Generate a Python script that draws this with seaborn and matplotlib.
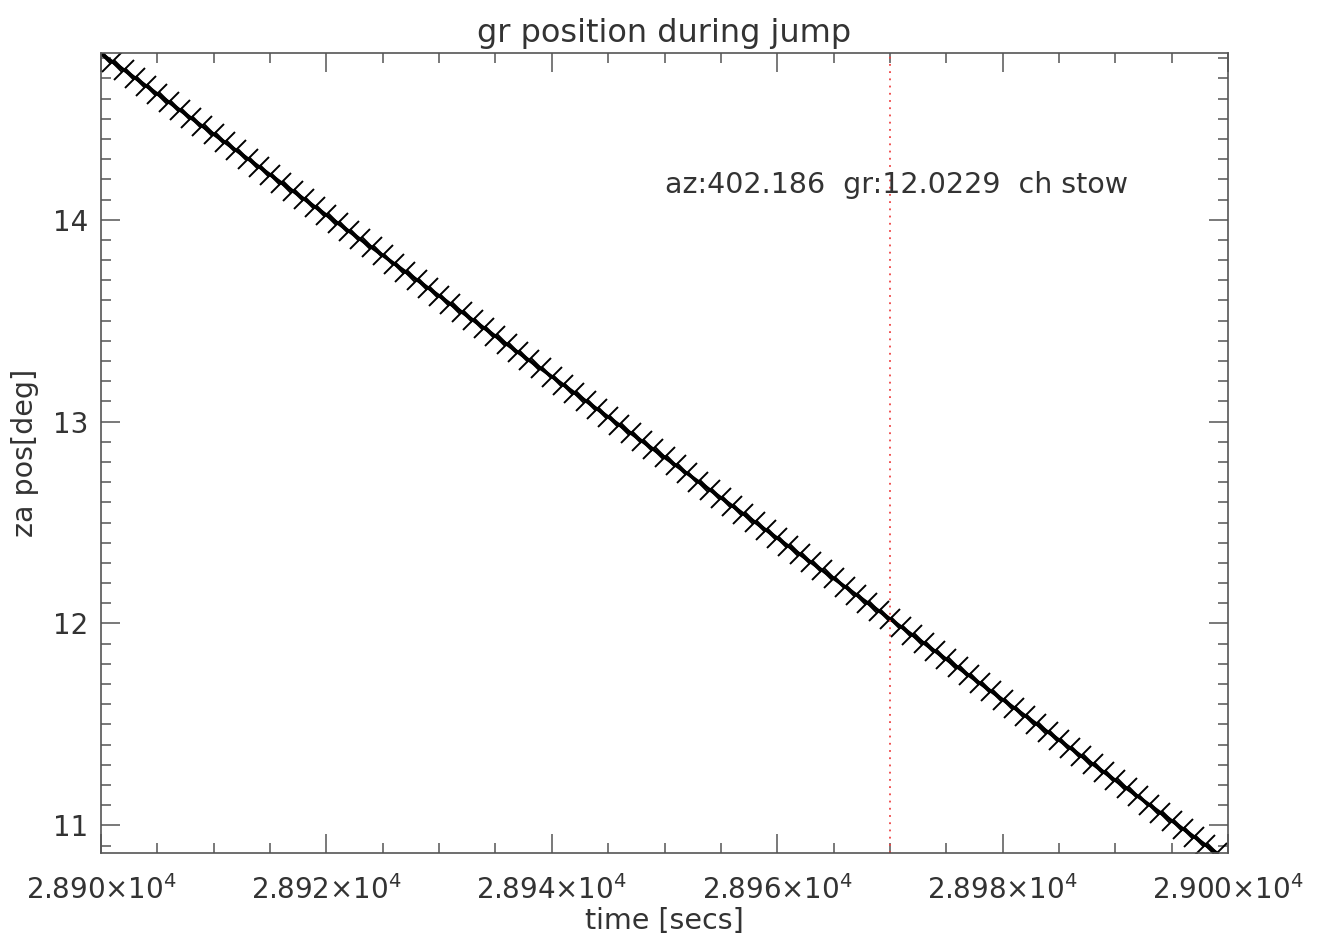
import seaborn as sns
import matplotlib.pyplot as plt
from matplotlib.ticker import FixedLocator, MultipleLocator
import pandas as pd

# time stamps [secs] and za position [deg]
time_secs = [
    28900, 28901, 28902, 28903, 28904, 28905, 28906, 28907, 28908, 28909,
    28910, 28911, 28912, 28913, 28914, 28915, 28916, 28917, 28918, 28919,
    28920, 28921, 28922, 28923, 28924, 28925, 28926, 28927, 28928, 28929,
    28930, 28931, 28932, 28933, 28934, 28935, 28936, 28937, 28938, 28939,
    28940, 28941, 28942, 28943, 28944, 28945, 28946, 28947, 28948, 28949,
    28950, 28951, 28952, 28953, 28954, 28955, 28956, 28957, 28958, 28959,
    28960, 28961, 28962, 28963, 28964, 28965, 28966, 28967, 28968, 28969,
    28970, 28971, 28972, 28973, 28974, 28975, 28976, 28977, 28978, 28979,
    28980, 28981, 28982, 28983, 28984, 28985, 28986, 28987, 28988, 28989,
    28990, 28991, 28992, 28993, 28994, 28995, 28996, 28997, 28998, 28999,
]
za_pos = [
    14.823, 14.783, 14.743, 14.703, 14.663, 14.623, 14.583, 14.543, 14.503, 14.463,
    14.423, 14.383, 14.343, 14.303, 14.263, 14.223, 14.183, 14.143, 14.103, 14.063,
    14.023, 13.983, 13.943, 13.903, 13.863, 13.823, 13.783, 13.743, 13.703, 13.663,
    13.623, 13.583, 13.543, 13.503, 13.463, 13.423, 13.383, 13.343, 13.303, 13.263,
    13.223, 13.183, 13.143, 13.103, 13.063, 13.023, 12.983, 12.943, 12.903, 12.863,
    12.823, 12.783, 12.743, 12.703, 12.663, 12.623, 12.583, 12.543, 12.503, 12.463,
    12.423, 12.383, 12.343, 12.303, 12.263, 12.223, 12.183, 12.143, 12.103, 12.063,
    12.023, 11.983, 11.943, 11.903, 11.863, 11.823, 11.783, 11.743, 11.703, 11.663,
    11.623, 11.583, 11.543, 11.503, 11.463, 11.423, 11.383, 11.343, 11.303, 11.263,
    11.223, 11.183, 11.143, 11.103, 11.063, 11.023, 10.983, 10.943, 10.903, 10.863,
]
jump_time = 28970
x_ticks = [28900, 28920, 28940, 28960, 28980, 29000]
x_tick_labels = ["2.890×10$^{4}$", "2.892×10$^{4}$", "2.894×10$^{4}$",
                 "2.896×10$^{4}$", "2.898×10$^{4}$", "2.900×10$^{4}$"]
y_ticks = [11, 12, 13, 14]
info_text = "az:402.186  gr:12.0229  ch stow"

df = pd.DataFrame({"t": time_secs, "za": za_pos})

sns.set_style("ticks")
plt.rcParams['font.family'] = ['DejaVu Sans']
plt.rcParams['mathtext.fontset'] = 'dejavusans'

txt = '#333333'
axcol = '#555555'

fig = plt.figure(figsize=(13.21, 9.39), dpi=100)
ax = fig.add_axes([0.0765, 0.0916, 0.8531, 0.852])

sns.lineplot(data=df, x="t", y="za", ax=ax, color='black', linewidth=2.4,
             marker='x', markersize=14, markeredgewidth=1.4,
             markeredgecolor='black')
ax.axvline(jump_time, color='#ee4444', linestyle=(0, (1, 3)), linewidth=1.3)

ax.set_xlim(28900, 29000)
ax.set_ylim(10.863, 14.826)

ax.xaxis.set_major_locator(FixedLocator(x_ticks))
ax.set_xticklabels(x_tick_labels)
ax.xaxis.set_minor_locator(MultipleLocator(5))
ax.yaxis.set_major_locator(FixedLocator(y_ticks))
ax.yaxis.set_minor_locator(MultipleLocator(0.1))

ax.tick_params(which='both', direction='in', top=True, right=True,
               color=axcol, labelcolor=txt, labelsize=20)
ax.tick_params(which='major', length=14, width=1.1)
ax.tick_params(which='minor', length=7, width=1.1)
ax.tick_params(axis='x', pad=16)
ax.tick_params(axis='y', pad=9)
for s in ax.spines.values():
    s.set_color(axcol)
    s.set_linewidth(1.2)

ax.text(28950.0, 14.173, info_text, fontsize=20.5, color=txt,
        ha='left', va='center')

ax.set_title("gr position during jump", fontsize=23, color=txt, pad=8)
ax.set_xlabel("time [secs]", fontsize=20.5, color=txt)
ax.set_ylabel("za pos[deg]", fontsize=20.5, color=txt)
ax.xaxis.set_label_coords(0.5, -0.068)
ax.yaxis.set_label_coords(-0.055, 0.5)

plt.savefig("out.png", dpi=100)
